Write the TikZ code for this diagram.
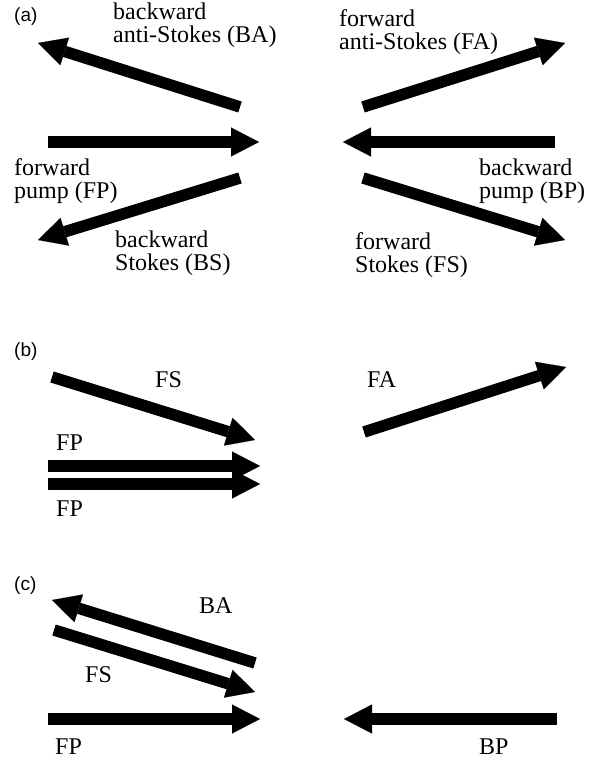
\documentclass[tikz,border=0pt]{standalone}
\usepackage{fontspec}
\setmainfont{Liberation Serif}
\newfontfamily\panelfont{Liberation Sans}
\usetikzlibrary{arrows.meta}
\begin{document}
\begin{tikzpicture}[x=1pt,y=-1pt,
  beam/.style={line width=11.5pt,line cap=butt,-{Triangle[length=28pt,width=29pt,line width=0.1pt]}},
  lbl/.style={anchor=base west,inner sep=0pt,font=\fontsize{24}{23}\selectfont,align=left},
  panel/.style={anchor=base west,inner sep=0pt,font=\panelfont\fontsize{19}{22}\selectfont}]
\useasboundingbox[fill=white] (0,0) rectangle (608,760);
% ---------- panel (a) ----------
\node[panel] (pa) at (14,22) {(a)};
\coordinate (baT) at (240,107); \coordinate (baH) at (38,43);
\coordinate (fpT) at (48,142);  \coordinate (fpH) at (259,142);
\coordinate (bsT) at (240,178); \coordinate (bsH) at (38,240);
\coordinate (faT) at (363,107); \coordinate (faH) at (565,43);
\coordinate (bpT) at (555,142); \coordinate (bpH) at (343,142);
\coordinate (fsT) at (363,178); \coordinate (fsH) at (565,240);
\draw[beam] (baT) -- (baH);
\draw[beam] (fpT) -- (fpH);
\draw[beam] (bsT) -- (bsH);
\draw[beam] (faT) -- (faH);
\draw[beam] (bpT) -- (bpH);
\draw[beam] (fsT) -- (fsH);
\node[lbl] (lba) at (113,43) {backward\\anti-Stokes (BA)};
\node[lbl] (lfa) at (339,49) {forward\\anti-Stokes (FA)};
\node[lbl] (lfp) at (14,198) {forward\\pump (FP)};
\node[lbl] (lbp) at (479,198) {backward\\pump (BP)};
\node[lbl] (lbs) at (115,270) {backward\\Stokes (BS)};
\node[lbl] (lfs) at (355,272) {forward\\Stokes (FS)};
% ---------- panel (b) ----------
\node[panel] (pb) at (14,356) {(b)};
\coordinate (b1T) at (52,377);  \coordinate (b1H) at (255,440);
\coordinate (b2T) at (48,466);  \coordinate (b2H) at (260,466);
\coordinate (b3T) at (48,484);  \coordinate (b3H) at (260,484);
\coordinate (b4T) at (364,432); \coordinate (b4H) at (566,367);
\draw[beam] (b1T) -- (b1H);
\draw[beam] (b2T) -- (b2H);
\draw[beam] (b3T) -- (b3H);
\draw[beam] (b4T) -- (b4H);
\node[lbl] (lbfs) at (155,387) {FS};
\node[lbl] (lbfa) at (367,387) {FA};
\node[lbl] (lbfp1) at (56,450) {FP};
\node[lbl] (lbfp2) at (56,516) {FP};
% ---------- panel (c) ----------
\node[panel] (pc) at (14,590) {(c)};
\coordinate (c1T) at (255,663); \coordinate (c1H) at (52,600);
\coordinate (c2T) at (54,630);  \coordinate (c2H) at (255,692);
\coordinate (c3T) at (48,719);  \coordinate (c3H) at (260,719);
\coordinate (c4T) at (557,719); \coordinate (c4H) at (344,719);
\draw[beam] (c1T) -- (c1H);
\draw[beam] (c2T) -- (c2H);
\draw[beam] (c3T) -- (c3H);
\draw[beam] (c4T) -- (c4H);
\node[lbl] (lcba) at (199,613) {BA};
\node[lbl] (lcfs) at (85,682) {FS};
\node[lbl] (lcfp) at (55,754) {FP};
\node[lbl] (lcbp) at (479,754) {BP};
\end{tikzpicture}
\end{document}
